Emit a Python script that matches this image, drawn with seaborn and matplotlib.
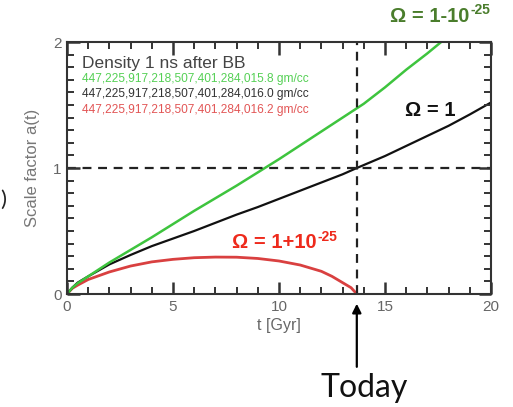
import pandas as pd
import matplotlib.pyplot as plt
from matplotlib.ticker import MultipleLocator
import seaborn as sns

sns.set_style("ticks")
plt.rcParams['font.family'] = ['Liberation Sans', 'DejaVu Sans']

# values: t in Gyr, scale factor a(t)
t_open = [0, 0.25, 0.5, 1, 2, 3, 4, 5, 6, 7, 8, 9, 10, 11, 12, 13, 14, 15, 16, 17, 17.65]
a_open = [0, 0.05, 0.085, 0.14, 0.25, 0.35, 0.45, 0.555, 0.66, 0.76, 0.86, 0.965, 1.07,
          1.18, 1.29, 1.40, 1.51, 1.64, 1.78, 1.91, 2.0]

t_flat = [0, 0.25, 0.5, 1, 2, 3, 4, 5, 6, 7, 8, 9, 10, 11, 12, 13, 13.67,
          15, 16, 17, 18, 19, 20]
a_flat = [0, 0.05, 0.09, 0.14, 0.235, 0.31, 0.38, 0.44, 0.50, 0.565, 0.63, 0.69, 0.755,
          0.82, 0.885, 0.95, 1.0, 1.095, 1.175, 1.255, 1.335, 1.425, 1.52]

t_closed = [0, 0.25, 0.5, 1, 2, 3, 4, 5, 6, 7, 8, 9, 10, 11, 12, 12.5, 13, 13.4, 13.67]
a_closed = [0, 0.045, 0.07, 0.115, 0.175, 0.222, 0.255, 0.275, 0.288, 0.293, 0.292,
            0.282, 0.262, 0.23, 0.18, 0.14, 0.09, 0.05, 0]

t_today = 13.67
density_lines = ["447,225,917,218,507,401,284,015.8 gm/cc",
                 "447,225,917,218,507,401,284,016.0 gm/cc",
                 "447,225,917,218,507,401,284,016.2 gm/cc"]
text_colors = ["#55d055", "#333333", "#e25555"]

W, H = 513, 407
fig = plt.figure(figsize=(W / 100, H / 100), dpi=100)
ax = fig.add_axes([67 / W, 1 - 294 / H, 424 / W, 252 / H])
ax.set_axisbelow(False)

df_open = pd.DataFrame({"t": t_open, "a": a_open})
df_flat = pd.DataFrame({"t": t_flat, "a": a_flat})
df_closed = pd.DataFrame({"t": t_closed, "a": a_closed})

sns.lineplot(data=df_closed, x="t", y="a", ax=ax, color="#d94040", lw=2.0, sort=False)
sns.lineplot(data=df_flat, x="t", y="a", ax=ax, color="#111111", lw=1.6, sort=False)
sns.lineplot(data=df_open, x="t", y="a", ax=ax, color="#3ec43e", lw=1.8, sort=False)

ax.axhline(1, color="#222222", ls=(0, (4, 3)), lw=1.6)
ax.axvline(t_today, color="#222222", ls=(0, (4, 3)), lw=1.6)

ax.set_xlim(0, 20)
ax.set_ylim(0, 2)
ax.xaxis.set_major_locator(MultipleLocator(5))
ax.xaxis.set_minor_locator(MultipleLocator(1))
ax.yaxis.set_major_locator(MultipleLocator(1))
ax.yaxis.set_minor_locator(MultipleLocator(0.1))
ax.tick_params(which="both", direction="in", top=True, right=True,
               bottom=True, left=True, color="#333333",
               labelcolor="#666666", labelsize=11, pad=4)
ax.tick_params(which="major", length=9, width=1.8)
ax.tick_params(which="minor", length=5, width=1.4)
for s in ax.spines.values():
    s.set_color("#333333")
    s.set_linewidth(1.5)

ax.set_xlabel("t [Gyr]", color="#666666", fontsize=11.5, labelpad=3)
ax.set_ylabel("Scale factor a(t)", color="#777777", fontsize=12, labelpad=9)

# legend-like text block
ax.text(0.7, 1.83, "Density 1 ns after BB", color="#444444", fontsize=12.5, va="center")
for i, (s, c) in enumerate(zip(density_lines, text_colors)):
    ax.text(0.7, 1.71 - i * 0.123, s, color=c, fontsize=8.6, va="center")


def omega_label(x, y, main, sup, color):
    t = fig.text(x / W, 1 - y / H, main, color=color, fontsize=14.5,
                 fontweight="bold", va="center", ha="left")
    fig.canvas.draw()
    bb = t.get_window_extent()
    fig.text((bb.x1 + 1) / W, 1 - (y - 6) / H, sup, color=color, fontsize=10,
             fontweight="bold", va="center", ha="left")


omega_label(390, 16, "Ω = 1-10", "-25", "#4a7d2c")
omega_label(405, 110, "Ω = 1", "", "#111111")
omega_label(232, 243, "Ω = 1+10", "-25", "#ee2a1c")

# "Today" arrow and label
ax.annotate("", xy=(t_today, -0.055), xytext=(t_today, -0.60), annotation_clip=False,
            arrowprops=dict(arrowstyle="-|>", color="black", lw=1.6, mutation_scale=13))
fig.text(364 / W, 1 - 388 / H, "Today", family=["Lato", "DejaVu Sans"],
         fontweight="normal", fontsize=23, ha="center", va="center", color="#111111")
fig.text(3 / W, 1 - 200 / H, ")", family=["Lato", "DejaVu Sans"],
         fontweight="normal", fontsize=16, ha="center", va="center", color="#222222")

fig.savefig("out.png", dpi=100)
